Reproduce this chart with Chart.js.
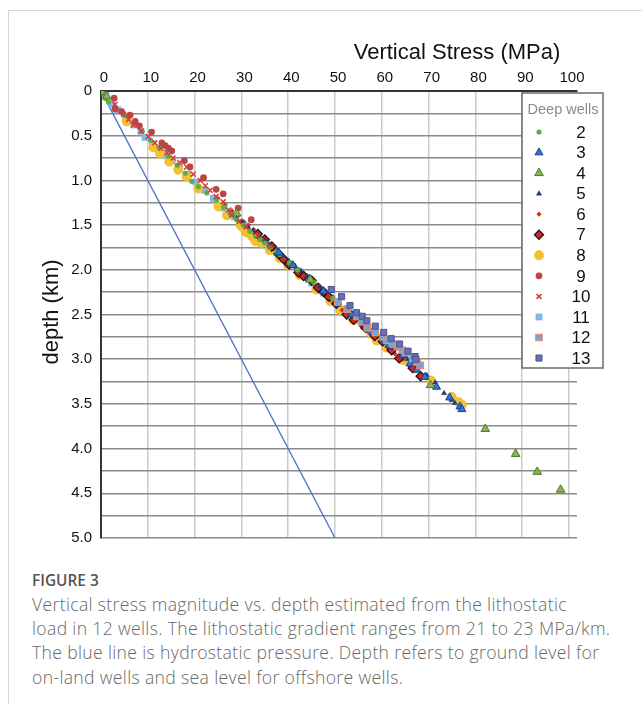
<!DOCTYPE html>
<html><head><meta charset="utf-8">
<script src="https://cdn.jsdelivr.net/npm/chart.js@4.4.1/dist/chart.umd.min.js"></script>
<style>
html,body{margin:0;padding:0;background:#fff;}
body{width:642px;height:704px;position:relative;overflow:hidden;font-family:"Open Sans",sans-serif;}
#frame{position:absolute;left:8px;top:10px;width:640px;height:700px;border-left:1px solid #d6d6d6;border-top:1px solid #d6d6d6;}
#wrap{position:absolute;left:0;top:0;width:642px;height:560px;}
#cap{position:absolute;left:32px;top:569px;width:606px;color:#686868;font-size:17.6px;font-weight:300;letter-spacing:0.34px;line-height:24.2px;white-space:nowrap;}
#cap .fig{color:#555;font-weight:600;font-size:15.4px;letter-spacing:0;line-height:23px;}
</style></head>
<body>
<div id="frame"></div>
<div id="wrap"><canvas id="c" width="642" height="560"></canvas></div>
<div id="cap">
<div class="fig">FIGURE 3</div>
<div>Vertical stress magnitude vs. depth estimated from the lithostatic</div>
<div>load in 12 wells. The lithostatic gradient ranges from 21 to 23 MPa/km.</div>
<div>The blue line is hydrostatic pressure. Depth refers to ground level for</div>
<div>on-land wells and sea level for offshore wells.</div>
</div>
<script>
// ---- data: [vertical stress (MPa), depth (km)] ----
const wellNames = ['2','3','4','5','6','7','8','9','10','11','12','13'];
const well2 = [[0.5,0.03],[0.9,0.08],[1.6,0.12],[3.2,0.19],[5.0,0.27],[7.1,0.37],[8.8,0.45],[10.6,0.55],[12.4,0.63],[14.4,0.73],[16.3,0.83],[18.0,0.92],[19.4,1.01],[20.8,1.07],[22.6,1.14],[24.7,1.22],[26.2,1.3],[27.6,1.37],[29.0,1.44],[30.4,1.5],[31.8,1.57],[33.0,1.62],[34.0,1.66],[35.0,1.7],[36.1,1.75],[37.5,1.8],[38.2,1.83],[40.3,1.92],[42.0,2.0],[45.5,2.14],[49.5,2.32]];
const well3 = [[38.0,1.81],[41.0,1.95],[44.5,2.1],[47.5,2.24],[50.5,2.38],[53.5,2.5],[56.0,2.6],[58.0,2.7],[60.5,2.8],[61.5,2.84],[62.5,2.86],[64.5,2.96],[66.0,3.05],[67.5,3.12],[69.2,3.2],[71.7,3.31],[74.5,3.43],[76.7,3.53],[77.1,3.56]];
const well4 = [[0.2,0.01],[1.2,0.06],[29.0,1.37],[44.7,2.11],[70.4,3.29],[82.1,3.78],[88.6,4.06],[93.2,4.26],[98.2,4.46]];
const well5 = [[29.0,1.42],[30.1,1.46],[31.4,1.52],[32.5,1.56],[33.8,1.61],[35.1,1.67],[36.3,1.72],[37.6,1.78],[38.8,1.84],[40.1,1.9],[41.5,1.96],[42.7,2.01],[44.0,2.07],[45.4,2.13],[46.7,2.19],[48.1,2.25],[49.6,2.31],[50.9,2.37],[52.3,2.43],[53.8,2.49],[55.3,2.56],[56.8,2.62],[58.3,2.68],[59.8,2.75],[61.3,2.81],[62.9,2.87],[64.4,2.93],[65.5,3.0],[66.4,3.05],[69.6,3.18],[71.4,3.26],[73.3,3.38],[74.9,3.46],[75.6,3.49]];
const well6 = [[25.0,1.2],[26.5,1.27],[28.0,1.34],[29.2,1.4],[30.5,1.46],[31.5,1.5],[32.6,1.55],[33.7,1.6],[34.8,1.66],[35.9,1.71],[37.0,1.77],[38.1,1.82],[39.3,1.88],[40.5,1.93],[41.6,1.99],[42.9,2.05],[44.1,2.11],[45.4,2.16],[46.6,2.22],[47.8,2.28],[49.0,2.34],[50.2,2.4],[51.5,2.45],[52.8,2.51],[54.1,2.57],[55.6,2.63],[57.0,2.69],[58.4,2.75],[59.9,2.82],[61.4,2.88],[62.8,2.94],[64.5,3.0],[66.0,3.07]];
const well7 = [[33.5,1.6],[35.0,1.66],[36.5,1.74],[37.9,1.82],[39.0,1.88],[40.2,1.94],[42.2,2.03],[43.3,2.07],[45.0,2.12],[46.4,2.2],[47.6,2.25],[48.6,2.3],[50.3,2.38],[52.5,2.5],[54.0,2.56],[56.5,2.65],[58.5,2.74],[60.2,2.8],[62.1,2.9],[63.7,2.99],[66.6,3.1],[68.3,3.19]];
const well8 = [[5.5,0.34],[11.2,0.63],[12.6,0.7],[14.6,0.79],[16.5,0.88],[18.3,0.96],[20.8,1.09],[25.1,1.29],[26.9,1.39],[29.8,1.5],[30.2,1.52],[31.0,1.58],[31.1,1.56],[32.2,1.62],[32.7,1.64],[33.0,1.68],[34.3,1.7],[36.1,1.78],[38.2,1.87],[40.0,1.95],[42.5,2.06],[46.0,2.22],[49.0,2.35],[51.1,2.45],[53.9,2.56],[57.8,2.72],[58.9,2.79],[61.0,2.87],[64.6,3.01],[67.0,3.1],[70.5,3.24],[74.9,3.42],[76.4,3.48],[77.1,3.51]];
const well9 = [[2.8,0.08],[3.0,0.2],[4.4,0.23],[6.2,0.27],[7.3,0.34],[8.2,0.39],[10.8,0.46],[13.0,0.58],[13.7,0.61],[14.4,0.64],[15.1,0.67],[17.8,0.78],[19.0,0.85],[21.9,0.97],[24.6,1.1],[26.1,1.15],[29.3,1.31],[32.1,1.44]];
const well10 = [[3.0,0.15],[4.8,0.26],[5.9,0.32],[6.9,0.38],[8.6,0.45],[10.1,0.51],[11.5,0.58],[12.8,0.64],[14.1,0.69],[15.4,0.75],[16.8,0.8],[18.3,0.85],[19.7,0.93],[21.2,1.0],[22.3,1.06],[23.3,1.11],[24.6,1.18],[26.1,1.24],[27.3,1.33],[27.9,1.39],[29.5,1.46],[31.0,1.52],[33.5,1.62],[36.2,1.74]];
const well11 = [[1.0,0.05],[2.3,0.15],[3.6,0.21],[5.3,0.3],[7.0,0.38],[8.5,0.45],[9.4,0.52],[11.0,0.59],[12.6,0.66],[13.7,0.72],[15.2,0.78],[16.8,0.86],[18.5,0.93],[20.3,1.02],[22.1,1.11],[24.0,1.2],[26.3,1.31],[28.5,1.41],[30.6,1.5],[32.7,1.6],[35.0,1.7],[37.5,1.81],[40.1,1.93],[42.6,2.04],[45.0,2.15],[47.5,2.26],[50.1,2.37],[52.6,2.47],[54.9,2.57],[57.8,2.69],[60.5,2.8],[62.0,2.86]];
const well12 = [[50.6,2.36],[52.6,2.44],[54.7,2.52],[55.8,2.58],[56.9,2.65],[58.6,2.7],[60.3,2.75],[61.1,2.79],[62.3,2.83],[63.4,2.86],[64.4,2.9],[65.1,2.92],[66.6,2.99],[67.5,3.03],[68.2,3.07]];
const well13 = [[49.2,2.22],[51.4,2.3],[53.2,2.4],[54.6,2.48],[55.8,2.52],[56.8,2.57],[58.6,2.63],[60.4,2.7],[62.0,2.77],[63.8,2.83],[65.6,2.91],[67.1,2.97],[67.3,3.0]];
const hydroStress = [0, 50];
const hydroDepth = [0, 5];
const xTickValues = [0,10,20,30,40,50,60,70,80,90,100];
const yTickValues = [0,0.25,0.5,0.75,1,1.25,1.5,1.75,2,2.25,2.5,2.75,3,3.25,3.5,3.75,4,4.25,4.5,4.75,5];
const yTickLabels = ['0','','0.5','','1.0','','1.5','','2.0','','2.5','','3.0','','3.5','','4.0','','4.5','','5.0'];

// ---- styles ----
const wellData = [well2,well3,well4,well5,well6,well7,well8,well9,well10,well11,well12,well13];
const wellStyle = [
  {ps:'circle',   r:2.6, bg:'#5EAD45', bc:'#5EAD45', bw:0},
  {ps:'triangle', r:4.6, bg:'#2F74DA', bc:'#1B3F8A', bw:1},
  {ps:'triangle', r:5.0, bg:'#8BB254', bc:'#4D7A2B', bw:1},
  {ps:'triangle', r:3.0, bg:'#203C75', bc:'#203C75', bw:0.5},
  {ps:'rectRot',  r:2.6, bg:'#D2331F', bc:'#D2331F', bw:0},
  {ps:'rectRot',  r:4.6, bg:'#D8231F', bc:'#111111', bw:1.2},
  {ps:'circle',   r:4.7, bg:'#F3C233', bc:'#EBB626', bw:0.5},
  {ps:'circle',   r:3.4, bg:'#BA4545', bc:'#BA4545', bw:0},
  {ps:'crossRot', r:3.5, bg:'#D33A3A', bc:'#D33A3A', bw:1.5},
  {ps:'rect',     r:4.8, bg:'#80B8EA', bc:'#80B8EA', bw:0},
  {ps:'rect',     r:4.6, bg:'#6EA5DC', bc:'#EC8B6D', bw:1.2},
  {ps:'rect',     r:4.3, bg:'#6870B3', bc:'#4C5394', bw:1}
];
// drawing order (higher = drawn earlier / underneath)
const drawOrder = [6, 5, 0, 7, 9, 8, 10, 2, 1, 11, 4, 3];

const datasets = wellData.map((arr, i) => ({
  label: wellNames[i],
  data: arr.map(p => ({x: p[0], y: p[1]})),
  pointStyle: wellStyle[i].ps,
  pointRadius: wellStyle[i].r,
  pointBackgroundColor: wellStyle[i].bg,
  pointBorderColor: wellStyle[i].bc,
  pointBorderWidth: wellStyle[i].bw,
  showLine: false,
  order: drawOrder[i]
}));
datasets.push({
  label: 'hydrostatic',
  data: hydroStress.map((v, i) => ({x: v, y: hydroDepth[i]})),
  showLine: true, borderColor: '#4A72C8', borderWidth: 1.3, pointRadius: 0, order: 30
});

function drawMark(ctx, st, x, y) {
  ctx.save();
  ctx.fillStyle = st.bg; ctx.strokeStyle = st.bc; ctx.lineWidth = st.bw;
  const r = st.r;
  ctx.beginPath();
  if (st.ps === 'circle') { ctx.arc(x, y, r, 0, Math.PI * 2); ctx.closePath(); }
  else if (st.ps === 'triangle') {
    const s = Math.sin(Math.PI * 2 / 3) * r;
    ctx.moveTo(x, y - r); ctx.lineTo(x + s, y + r / 2); ctx.lineTo(x - s, y + r / 2); ctx.closePath();
  } else if (st.ps === 'rect') {
    const h = r * Math.SQRT1_2; ctx.rect(x - h, y - h, 2 * h, 2 * h);
  } else if (st.ps === 'rectRot') {
    ctx.moveTo(x, y - r); ctx.lineTo(x + r, y); ctx.lineTo(x, y + r); ctx.lineTo(x - r, y); ctx.closePath();
  } else if (st.ps === 'crossRot') {
    const h = r * Math.SQRT1_2;
    ctx.moveTo(x - h, y - h); ctx.lineTo(x + h, y + h); ctx.moveTo(x + h, y - h); ctx.lineTo(x - h, y + h);
  }
  if (st.ps !== 'crossRot') ctx.fill();
  if (st.bw > 0) ctx.stroke();
  ctx.restore();
}

const decor = {
  id: 'decor',
  afterDraw(chart) {
    const ctx = chart.ctx;
    ctx.save();
    // axis titles
    ctx.fillStyle = '#111';
    ctx.font = '22px "Liberation Sans", Arial, sans-serif';
    ctx.textAlign = 'center'; ctx.textBaseline = 'middle';
    ctx.fillText('Vertical Stress (MPa)', 457, 53);
    ctx.save();
    ctx.translate(52, 312); ctx.rotate(-Math.PI / 2);
    ctx.fillText('depth (km)', 0, 0);
    ctx.restore();
    // legend
    const lx = 522, ly = 93, lw = 81, lh = 275;
    ctx.fillStyle = '#fff';
    ctx.fillRect(lx, ly, lw, lh);
    ctx.strokeStyle = '#6a6a6a'; ctx.lineWidth = 1.5;
    ctx.strokeRect(lx, ly, lw, lh);
    ctx.fillStyle = '#8a8a8a';
    ctx.font = '14.5px "Liberation Sans", Arial, sans-serif';
    ctx.fillText('Deep wells', 563, 110);
    ctx.font = '17px "Liberation Sans", Arial, sans-serif';
    for (let i = 0; i < wellNames.length; i++) {
      const yy = 132 + i * 20.55;
      drawMark(ctx, wellStyle[i], 539, yy);
      ctx.fillStyle = '#111';
      ctx.fillText(wellNames[i], 581, yy + 1);
    }
    ctx.restore();
  }
};

new Chart(document.getElementById('c'), {
  type: 'scatter',
  data: { datasets },
  options: {
    responsive: false, animation: false,
    layout: { padding: { left: 0, right: 65, top: 0, bottom: 22 } },
    plugins: { legend: { display: false }, tooltip: { enabled: false } },
    scales: {
      x: {
        type: 'linear', position: 'top', min: 0, max: 101.7,
        afterBuildTicks: s => { s.ticks = xTickValues.map(v => ({value: v})); },
        afterFit: s => { s.height = 91; },
        grid: { color: '#cbcbcb', lineWidth: 1.5, drawTicks: false },
        border: { display: true, color: '#333', width: 2 },
        ticks: { color: '#111', padding: 4, labelOffset: 3, maxRotation: 0, autoSkip: false,
                 font: { size: 15, family: '"Liberation Sans", Arial, sans-serif' } }
      },
      y: {
        type: 'linear', reverse: true, min: 0, max: 5,
        afterBuildTicks: s => { s.ticks = yTickValues.map(v => ({value: v})); },
        afterFit: s => { s.width = 101; },
        grid: { color: '#8a8a8a', lineWidth: 1.6, drawTicks: false },
        border: { display: true, color: '#333', width: 2 },
        ticks: { color: '#111', padding: 9, autoSkip: false,
                 callback: (v, i) => yTickLabels[i],
                 font: { size: 15, family: '"Liberation Sans", Arial, sans-serif' } }
      }
    }
  },
  plugins: [decor]
});
</script>
</body></html>
